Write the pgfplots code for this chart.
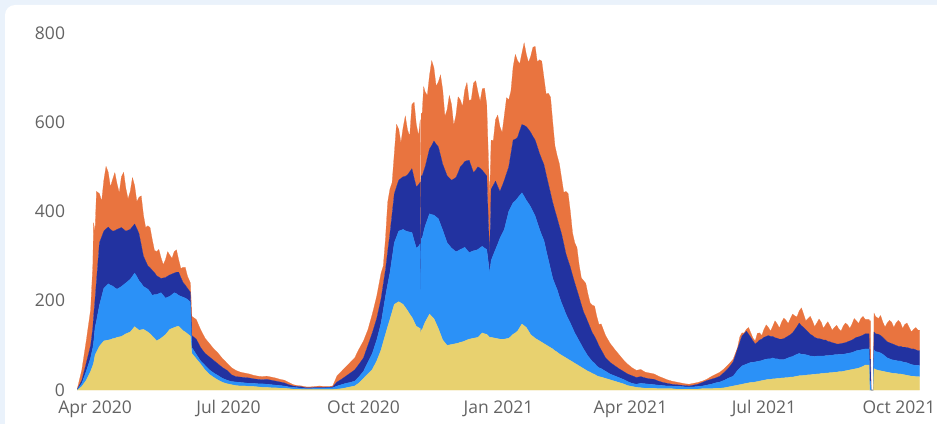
\documentclass[border=0pt]{standalone}
\usepackage{fontspec}
\setmainfont{Open Sans}
\usepackage{pgfplots}
\usepackage{pgfplotstable}
\pgfplotsset{compat=1.18}

\definecolor{bgout}{HTML}{EAF2FB}
\definecolor{txt}{HTML}{636363}
\definecolor{cyel}{HTML}{E8D16F}
\definecolor{clb}{HTML}{2B91F7}
\definecolor{cdb}{HTML}{2232A0}
\definecolor{cor}{HTML}{E9743F}

% d = days since 1 Apr 2020; four stacked series, bottom to top
\pgfplotstableread{
d ye lb db or
-12 0 1 1 2
-9 8 7 7 23
-6 22 20 18 50
-3 42 30 28 80
-1.5 55 40 45 140
-1 60 45 60 210
0 78 62 63 152
1 85 70 90 200
3 98 92 140 110
4.5 104 105 134 80
6 110 118 128 114
7.5 111 122 128 140
9 112 126 127 123
10.5 113 122 125 95
12 115 118 123 116
13.5 116 113 128 130
15 118 108 134 102
16.5 119 110 133 80
18 120 112 132 114
19.5 123 113 124 128
21 126 114 116 96
22.5 128 116 114 70
24 130 118 112 85
25.5 136 119 111 110
27 142 120 110 86
28.5 138 116 108 60
30 134 111 105 82
31.5 135 104 86 110
33 136 96 68 92
34.5 133 96 60 75
36 130 96 52 90
37.5 126 94 54 90
39 121 91 56 69
40.5 116 98 49 50
42 110 104 42 54
43.5 113 103 37 62
45 116 102 32 46
46.5 120 92 39 30
48 124 82 46 40
49.5 130 78 47 55
51 136 74 48 44
52.5 138 76 46 35
54 140 78 44 48
55.5 142 74 48 50
57 143 69 52 28
58.5 138 72 42 20
60 133 75 33 34
61.5 130 76 29 40
63 126 77 25 27
65 121 76 22 21
66 82 13 27 43
69 70 10 34 44
72 58 7 30 40
75 45 10 27 34
78 35 10 29 30
81 28 10 28 26
84 22 10 26 24
87 17 9 24 20
90 14 8 22 16
93 12 7 15 16
96 10 8 12 14
99 9 8 12 11
102 9 7 12 10
105 8 7 12 9
108 8 7 10 8
111 7 7 10 7
114 6 8 9 7
117 6 7 11 7
120 5 7 10 7
123 5 6 9 7
126 4 6 8 6
129 4 5 7 6
132 3 4 5 5
135 2 4 3 3
138 2 3 3 2
141 1 3 3 2
144 1 2 2 2
147 1 2 2 2
150 1 3 2 2
153 1 3 2 3
156 1 3 2 2
159 1 4 1 2
162 1 4 2 2
165 2 7 9 14
168 3 9 12 18
171 5 10 16 21
174 7 10 21 24
177 9 11 25 27
180 16 14 28 34
183 26 16 30 38
186 36 26 38 35
189 46 36 46 42
192 65 47 48 50
195 90 60 55 57
196.5 108 72 58 40
198 125 85 60 70
199.5 142 95 74 110
201 158 104 88 100
202.5 175 121 99 70
204 192 138 110 90
205.5 195 148 112 140
207 198 158 114 115
208.5 195 163 116 80
210 192 168 118 110
211.5 185 172 122 135
213 178 177 127 101
214.5 170 184 135 80
216 163 190 143 144
217.5 153 182 140 170
219 143 175 137 140
220.5 140 182 138 110
221.7 138 190 138 140
222 120 5 0 0
222.3 135 205 140 140
223 135 205 140 140
224 144 210 136 190
225 152 215 133 168
226.5 161 220 139 140
228 170 225 145 165
229.5 165 228 155 190
231 160 232 166 164
232.5 149 239 163 130
234 138 246 161 145
235.5 125 246 155 180
237 112 246 148 166
238.5 106 238 149 120
240 100 230 150 148
241.5 101 223 151 185
243 102 216 152 170
244.5 103 211 159 120
246 104 206 166 139
247.5 105 207 175 170
249 107 208 185 150
250.5 108 209 188 130
252 110 210 192 160
253.5 112 202 200 175
255 114 194 207 133
256.5 115 195 191 150
258 116 196 175 201
259.5 117 196 180 200
261 118 197 185 168
262.5 123 196 178 150
264 128 194 170 183
265.5 126 192 168 190
267 125 190 165 160
269 118 144 38 130
270 118 172 160 110
271.5 117 186 156 100
273 116 199 153 138
274.5 115 212 129 160
276 114 226 105 145
277.5 114 236 107 120
279 114 246 110 145
280.5 115 265 105 170
282 116 284 100 150
283.5 120 290 120 140
285 125 295 140 164
286.5 128 296 138 190
288 132 298 136 172
289.5 140 296 145 150
291 148 294 153 160
292.5 144 290 159 185
294 140 285 165 162
295.5 132 286 166 150
297 124 286 167 171
298.5 120 280 168 200
300 116 274 170 210
301.5 113 262 170 190
303 110 250 170 210
304.5 107 240 170 220
306 104 231 170 195
307.5 101 212 170 180
309 98 194 170 203
310.5 95 176 170 215
312 92 158 170 180
313.5 88 149 165 145
315 85 140 160 140
316.5 81 128 158 140
318 78 117 155 125
319.5 75 108 145 115
321 72 98 135 140
322.5 69 91 130 150
324 66 84 125 125
325.5 63 76 118 95
327 60 68 112 90
328.5 57 62 105 95
330 54 56 98 72
331.5 51 50 90 60
333 48 44 83 70
334.5 45 39 80 75
336 42 34 76 63
337.5 40 30 70 55
339 37 27 64 62
340.5 35 25 60 68
342 32 22 56 55
343.5 30 20 49 48
345 29 19 42 58
348 26 16 30 50
351 23 13 26 43
354 20 12 23 37
357 17 11 20 32
360 14 10 18 26
363 10 9 17 22
366 8 7 17 18
369 6 7 15 16
372 5 10 15 16
375 4 10 13 13
378 4 9 12 13
381 4 8 12 12
384 3 8 9 11
387 3 7 7 10
390 3 6 6 8
393 3 6 4 7
396 2 6 4 6
399 2 6 3 5
402 2 5 3 4
405 2 5 2 4
408 2 5 4 4
411 2 6 5 4
414 3 6 8 3
417 3 8 10 3
420 3 10 11 6
423 4 12 11 8
426 4 14 13 9
429 5 17 18 8
432 7 20 23 8
435 9 22 32 6
438 11 33 48 3
439.5 12 37 58 12
441 13 41 67 7
442.5 14 42 70 2
444 15 43 74 4
445.5 16 44 65 15
447 17 45 56 10
448.5 17 45 48 6
450 18 45 40 7
451.5 19 45 43 20
453 20 45 47 16
454.5 21 45 48 8
456 22 46 50 18
457.5 23 46 51 26
459 24 46 52 18
460.5 24 46 50 12
462 25 47 48 23
463.5 25 45 47 38
465 26 44 46 32
466.5 26 42 46 25
468 27 41 46 38
469.5 27 41 47 46
471 28 42 48 38
472.5 28 44 49 28
474 29 45 50 36
475.5 29 46 53 42
477 30 48 57 31
478.5 31 49 62 22
480 32 50 68 27
481.5 32 48 64 40
483 33 47 60 30
484.5 33 46 56 20
486 34 44 52 30
487.5 34 42 49 40
489 35 41 46 33
490.5 35 40 43 24
492 36 40 40 34
493.5 36 40 39 44
495 37 39 38 38
496.5 37 39 36 26
498 38 39 35 34
499.5 38 39 32 44
501 39 39 30 36
502.5 39 39 28 28
504 40 39 26 35
505.5 40 39 24 42
507 41 39 23 34
508.5 41 39 24 28
510 42 38 25 38
511.5 43 38 25 44
513 44 38 26 38
514.5 45 38 27 28
516 46 38 28 36
517.5 47 39 29 45
519 48 40 30 37
520.5 49 40 30 30
522 51 39 31 39
523.5 53 38 32 42
525 56 36 34 32
527.6 56 36 34 32
528 0 20 49 86
528.6 0 20 49 86
529 0 0 0 0
530.5 0 0 0 0
531 48 42 40 42
532 46 40 40 39
534 44 41 40 35
535.5 43 40 39 45
537 42 38 38 34
538.5 41 35 37 28
540 40 32 36 42
541.5 39 31 36 50
543 38 30 36 48
544.5 37 30 35 38
546 37 29 34 50
547.5 36 29 33 58
549 36 29 33 53
550.5 35 28 33 42
552 34 28 34 51
553.5 33 28 34 55
555 32 27 35 46
556.5 31 26 35 38
558 31 25 36 44
559.5 30 25 35 50
561 30 25 33 46
562 30 25 33 46
}\data

\begin{document}
\begin{tikzpicture}
\path[use as bounding box] (0pt,0pt) rectangle (937pt,424pt);
\fill[bgout] (0pt,0pt) rectangle (937pt,424pt);
\begin{scope}
\clip (0pt,0pt) rectangle (937pt,424pt);
\fill[white, rounded corners=10pt] (5pt,-20pt) rectangle (960pt,419pt);
\end{scope}
\begin{axis}[
  at={(76.7pt,34pt)}, anchor=south west,
  scale only axis, width=851.6pt, height=357pt,
  xmin=-12.5, xmax=568, ymin=0, ymax=800,
  axis line style={draw=none},
  stack plots=y,
  xtick={0,91,183,275,365,456,548},
  xticklabels={Apr 2020,Jul 2020,Oct 2020,Jan 2021,Apr 2021,Jul 2021,Oct 2021},
  ytick={0,200,400,600,800},
  major tick length=0pt,
  tick style={draw=none},
  /pgf/number format/assume math mode=true,
  ticklabel style={font=\fontsize{17.5}{20}\selectfont, text=txt, inner sep=0pt},
  xticklabel style={anchor=base, yshift=-23pt},
  yticklabel style={anchor=base east, xshift=-11.5pt, yshift=-6.2pt},
  every axis plot/.append style={line width=0.2pt},
]
\addplot[fill=cyel, draw=cyel] table[x=d, y=ye] {\data} \closedcycle;
\addplot[fill=clb, draw=clb] table[x=d, y=lb] {\data} \closedcycle;
\addplot[fill=cdb, draw=cdb] table[x=d, y=db] {\data} \closedcycle;
\addplot[fill=cor, draw=cor] table[x=d, y=or] {\data} \closedcycle;
\end{axis}
\end{tikzpicture}
\end{document}
